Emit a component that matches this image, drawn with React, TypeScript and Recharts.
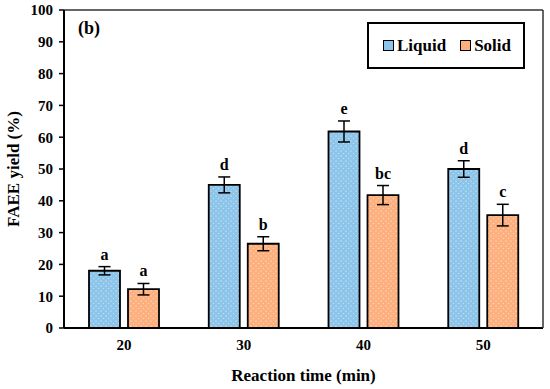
import React from 'react';
import { BarChart, Bar, XAxis, YAxis, ErrorBar, LabelList, Legend, Label } from 'recharts';

const categories = ['20', '30', '40', '50'];
const liquid = [18, 45, 61.8, 50];
const liquidErr = [1.3, 2.5, 3.3, 2.6];
const solid = [12.2, 26.5, 41.8, 35.5];
const solidErr = [1.8, 2.2, 3.0, 3.4];
const liquidLetters = ['a', 'd', 'e', 'd'];
const solidLetters = ['a', 'b', 'bc', 'c'];
const yTicks = [0, 10, 20, 30, 40, 50, 60, 70, 80, 90, 100];
const boundaryTicks = [0, 1, 2, 3, 4];

const data = categories.map((c, i) => ({
  time: c,
  liquid: liquid[i],
  liquidErr: liquidErr[i],
  solid: solid[i],
  solidErr: solidErr[i],
}));

const FONT = "Liberation Serif, Times New Roman, Tinos, DejaVu Serif, serif";
const BLUE = '#8cc4ea';
const ORANGE = '#fdb07e';

const makeLetter = (letters: string[], errs: number[]) => (props: any) => {
  const { x, y, width, height, value, index } = props;
  const v = Number(value);
  const h = Number(height);
  const ppu = v ? h / v : 0;
  const errTop = Number(y) - errs[index] * ppu;
  return (
    <text
      x={Number(x) + Number(width) / 2}
      y={errTop - 7}
      textAnchor="middle"
      style={{ fontFamily: FONT }}
      fontWeight="bold"
      fontSize={16}
      fill="#000"
    >
      {letters[index]}
    </text>
  );
};

const renderLegend = () => (
  <div
    style={{
      boxSizing: 'border-box',
      width: 158,
      height: 47,
      border: '2px solid #000',
      background: '#fff',
      display: 'flex',
      alignItems: 'center',
      paddingLeft: 14,
      fontFamily: FONT,
      fontWeight: 'bold',
      fontSize: 17,
      color: '#000',
    }}
  >
    <span style={{ display: 'inline-block', width: 11, height: 11, boxSizing: 'border-box', border: '1.5px solid #000', background: BLUE, marginRight: 3 }} />
    <span style={{ marginRight: 14 }}>Liquid</span>
    <span style={{ display: 'inline-block', width: 11, height: 11, boxSizing: 'border-box', border: '1.5px solid #000', background: ORANGE, marginRight: 3 }} />
    <span>Solid</span>
  </div>
);

const YLabel = (props: any) => {
  const vb = props.viewBox || {};
  const cy = vb.y + vb.height / 2;
  return (
    <text
      x={13}
      y={cy}
      transform={`rotate(-90, 13, ${cy})`}
      textAnchor="middle"
      dominantBaseline="central"
      style={{ fontFamily: FONT }}
      fontWeight="bold"
      fontSize={17}
      fill="#000"
    >
      FAEE yield (%)
    </text>
  );
};

const XLabel = (props: any) => {
  const vb = props.viewBox || {};
  return (
    <text
      x={vb.x + vb.width / 2}
      y={381}
      textAnchor="middle"
      style={{ fontFamily: FONT }}
      fontWeight="bold"
      fontSize={17}
      fill="#000"
    >
      Reaction time (min)
    </text>
  );
};

const tickStyle = { fontFamily: FONT, style: { fontFamily: FONT }, fontWeight: 'bold' as const, fontSize: 15, fill: '#000' };

export default function App() {
  return (
    <div style={{ position: 'absolute', left: 0, top: 0, width: 550, height: 389, background: '#fff', fontFamily: FONT }}>
      <BarChart
        width={550}
        height={389}
        data={data}
        margin={{ top: 9, right: 6, bottom: 20, left: 0 }}
        barGap={8}
        barSize={31}
        style={{ fontFamily: FONT }}
      >
        <defs>
          <pattern id="dotsBlue" width="5" height="5" patternUnits="userSpaceOnUse">
            <rect width="5" height="5" fill={BLUE} />
            <circle cx="1" cy="1" r="0.6" fill="#fff" opacity="0.85" />
            <circle cx="3.5" cy="3.5" r="0.6" fill="#fff" opacity="0.6" />
          </pattern>
          <pattern id="dotsOrange" width="5" height="5" patternUnits="userSpaceOnUse">
            <rect width="5" height="5" fill={ORANGE} />
            <circle cx="1" cy="1" r="0.6" fill="#fff" opacity="0.85" />
            <circle cx="3.5" cy="3.5" r="0.6" fill="#fff" opacity="0.6" />
          </pattern>
        </defs>
        <XAxis
          xAxisId="ticks"
          type="number"
          domain={[0, 4]}
          ticks={boundaryTicks}
          height={1}
          tick={false}
          tickSize={5}
          axisLine={false}
          tickLine={{ stroke: '#000', strokeWidth: 1.5 }}
          allowDataOverflow
        />
        <XAxis
          dataKey="time"
          height={40}
          tickLine={false}
          tickMargin={5}
          tick={tickStyle}
          axisLine={{ stroke: '#000', strokeWidth: 2 }}
        >
          <Label content={XLabel} />
        </XAxis>
        <XAxis
          xAxisId="top"
          orientation="top"
          type="number"
          domain={[0, 1]}
          height={1}
          tick={false}
          tickLine={false}
          axisLine={{ stroke: '#333', strokeWidth: 1.5 }}
        />
        <YAxis
          domain={[0, 100]}
          ticks={yTicks}
          width={64}
          tickSize={5}
          tickMargin={6}
          tick={tickStyle}
          tickLine={{ stroke: '#000', strokeWidth: 1.5 }}
          axisLine={{ stroke: '#000', strokeWidth: 2 }}
          interval={0}
        >
          <Label content={YLabel} />
        </YAxis>
        <YAxis
          yAxisId="right"
          orientation="right"
          domain={[0, 100]}
          width={1}
          tick={false}
          tickLine={false}
          axisLine={{ stroke: '#333', strokeWidth: 1.5 }}
        />
        <Legend
          layout="vertical"
          verticalAlign="middle"
          align="center"
          content={renderLegend}
          wrapperStyle={{ position: 'absolute', top: 22, left: 367, width: 158, height: 47 }}
        />
        <Bar dataKey="liquid" fill="url(#dotsBlue)" stroke="#000" strokeWidth={1.8} isAnimationActive={false}>
          <ErrorBar dataKey="liquidErr" width={6} stroke="#000" strokeWidth={1.5} direction="y" />
          <LabelList dataKey="liquid" content={makeLetter(liquidLetters, liquidErr)} />
        </Bar>
        <Bar dataKey="solid" fill="url(#dotsOrange)" stroke="#000" strokeWidth={1.8} isAnimationActive={false}>
          <ErrorBar dataKey="solidErr" width={6} stroke="#000" strokeWidth={1.5} direction="y" />
          <LabelList dataKey="solid" content={makeLetter(solidLetters, solidErr)} />
        </Bar>
      </BarChart>
      <div
        style={{
          position: 'absolute',
          left: 78,
          top: 18,
          fontFamily: FONT,
          fontWeight: 'bold',
          fontSize: 18,
          lineHeight: 'normal',
          color: '#000',
        }}
      >
        (b)
      </div>
    </div>
  );
}
